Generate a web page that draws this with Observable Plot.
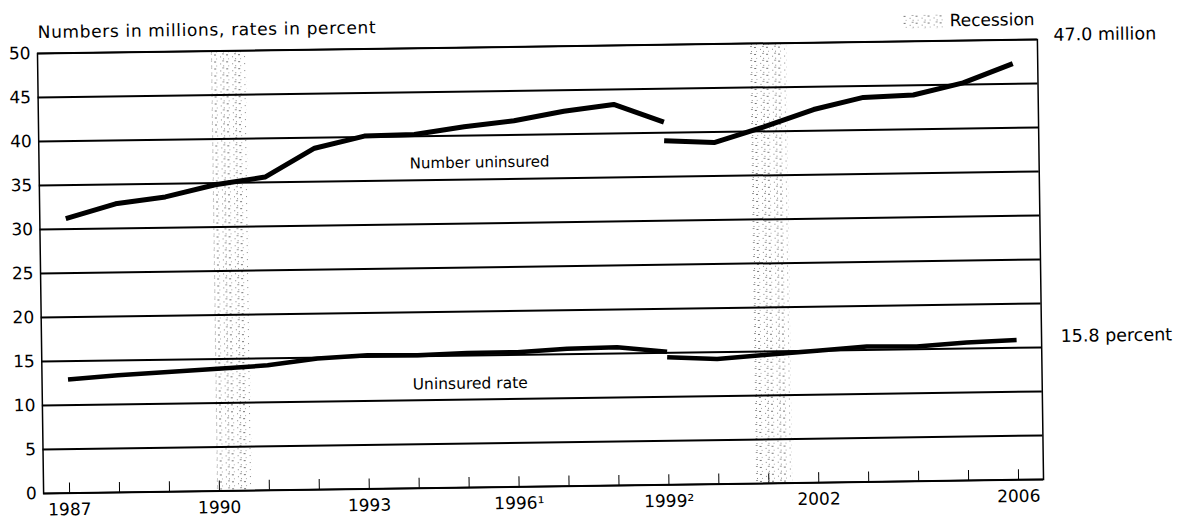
<!DOCTYPE html>
<html>
<head>
<meta charset="utf-8">
<script src="https://cdn.jsdelivr.net/npm/d3@7"></script>
<script src="https://cdn.jsdelivr.net/npm/@observablehq/plot@0.6"></script>
<style>
  html, body { margin: 0; padding: 0; background: #fff; }
  #wrap { position: relative; width: 1177px; height: 518px;
          transform: rotate(-0.8deg); transform-origin: 540px 266px; }
  #chart { position: absolute; left: 0; top: 0; }
  .title { position: absolute; left: 41px; top: 16px; font: 17px "DejaVu Sans", sans-serif;
           letter-spacing: 0.65px; color: #000; line-height: 19px; white-space: nowrap; }
  .legend { position: absolute; left: 906px; top: 17px; font: 17px "DejaVu Sans", sans-serif;
            color: #000; line-height: 19px; white-space: nowrap; display: flex; align-items: center; }
  .legend svg { margin-right: 5px; }
</style>
</head>
<body>
<svg width="0" height="0" style="position:absolute">
  <defs>
    <pattern id="stipple" width="12" height="7" patternUnits="userSpaceOnUse">
      <rect x="1" y="1" width="2" height="1" fill="#777"/>
      <rect x="7" y="3" width="1" height="1" fill="#888"/>
      <rect x="3" y="5" width="1" height="1" fill="#aaa"/>
      <rect x="9" y="0" width="2" height="1" fill="#999"/>
      <rect x="10" y="5" width="1" height="1" fill="#888"/>
    </pattern>
  </defs>
</svg>
<div id="wrap">
  <div id="chart"></div>
  <div class="title">Numbers in millions, rates in percent</div>
  <div class="legend"><svg width="42" height="14"><rect width="42" height="14" fill="url(#stipple)"/></svg>Recession</div>
</div>
<script>
// ---- data ----
const years = [1987,1988,1989,1990,1991,1992,1993,1994,1995,1996,1997,1998,1999,2000,2001,2002,2003,2004,2005,2006];
const xLabelYears = [1987, 1990, 1993, 1996, 1999, 2002, 2006];
const xLabelText  = ["1987", "1990", "1993", "1996\u00B9", "1999\u00B2", "2002", "2006"];
const yTicks = [0, 5, 10, 15, 20, 25, 30, 35, 40, 45, 50];

const oldYears  = [1987,1988,1989,1990,1991,1992,1993,1994,1995,1996,1997,1998,1999];
const oldNumber = [31.2, 32.8, 33.5, 34.8, 35.6, 38.8, 40.1, 40.2, 41.0, 41.6, 42.6, 43.3, 41.2];
const oldRate   = [12.9, 13.3, 13.6, 13.9, 14.2, 14.9, 15.2, 15.1, 15.3, 15.3, 15.6, 15.7, 15.1];

const newYears  = [1999, 2000, 2001, 2002, 2003, 2004, 2005, 2006];
const newNumber = [39.1, 38.8, 40.5, 42.4, 43.7, 43.9, 45.2, 47.3];
const newRate   = [14.5, 14.2, 14.6, 15.0, 15.4, 15.3, 15.7, 15.9];

const recessionStart = [1989.96, 2000.75];
const recessionEnd   = [1990.66, 2001.48];

const endLabels = ["47.0 million", "15.8 percent"];
const seriesLabels = ["Number uninsured", "Uninsured rate"];
const seriesLabelYear = [1995.3, 1995.05];
const seriesLabelValue = [36.9, 11.8];

// ---- tables built from arrays ----
const oldNum = oldYears.map((y, i) => ({year: y, value: oldNumber[i]}));
const oldRt  = oldYears.map((y, i) => ({year: y, value: oldRate[i]}));
const newNum = newYears.map((y, i) => ({year: y, value: newNumber[i]}));
const newRt  = newYears.map((y, i) => ({year: y, value: newRate[i]}));
const recessions = recessionStart.map((s, i) => ({start: s, end: recessionEnd[i]}));
const labelMap = new Map(xLabelYears.map((y, i) => [y, xLabelText[i]]));
const yMin = yTicks[0], yMax = yTicks[yTicks.length - 1];
const lastNum = newNum[newNum.length - 1], lastRate = newRt[newRt.length - 1];

const chart = Plot.plot({
  width: 1177,
  height: 518,
  marginLeft: 40,
  marginRight: 137,
  marginTop: 46,
  marginBottom: 32,
  style: {fontFamily: "DejaVu Sans, sans-serif", fontSize: "17px", color: "#000", background: "transparent", overflow: "visible"},
  x: {domain: [1986.48, 2006.5], ticks: years, tickSize: -10, tickPadding: 20,
      tickFormat: d => labelMap.get(d) ?? "", label: null},
  y: {domain: [yMin, yMax], ticks: yTicks, tickSize: 0, tickPadding: 7, label: null},
  marks: [
    Plot.rect(recessions, {x1: "start", x2: "end", y1: () => yMin, y2: () => yMax, fill: "url(#stipple)"}),
    Plot.ruleY(yTicks, {stroke: "#000", strokeWidth: 2}),
    Plot.frame({stroke: "#000", strokeWidth: 1.5}),
    Plot.line(oldNum, {x: "year", y: "value", stroke: "#000", strokeWidth: 5, strokeLinejoin: "round", strokeLinecap: "butt"}),
    Plot.line(newNum, {x: "year", y: "value", stroke: "#000", strokeWidth: 5, strokeLinejoin: "round", strokeLinecap: "butt"}),
    Plot.line(oldRt,  {x: "year", y: "value", stroke: "#000", strokeWidth: 4.5, strokeLinejoin: "round", strokeLinecap: "butt"}),
    Plot.line(newRt,  {x: "year", y: "value", stroke: "#000", strokeWidth: 4.5, strokeLinejoin: "round", strokeLinecap: "butt"}),
    Plot.text([lastNum], {x: "year", y: "value", text: () => endLabels[0], textAnchor: "start", dx: 41, dy: -28, fontSize: 17.5, fill: "#000"}),
    Plot.text([lastRate], {x: "year", y: "value", text: () => endLabels[1], textAnchor: "start", dx: 44, dy: -3, fontSize: 17.5, fill: "#000"}),
    Plot.text([0], {x: () => seriesLabelYear[0], y: () => seriesLabelValue[0], text: () => seriesLabels[0], fontSize: 15, fill: "#000"}),
    Plot.text([1], {x: () => seriesLabelYear[1], y: () => seriesLabelValue[1], text: () => seriesLabels[1], fontSize: 15.5, fill: "#000"})
  ]
});
document.getElementById("chart").appendChild(chart);
</script>
</body>
</html>
